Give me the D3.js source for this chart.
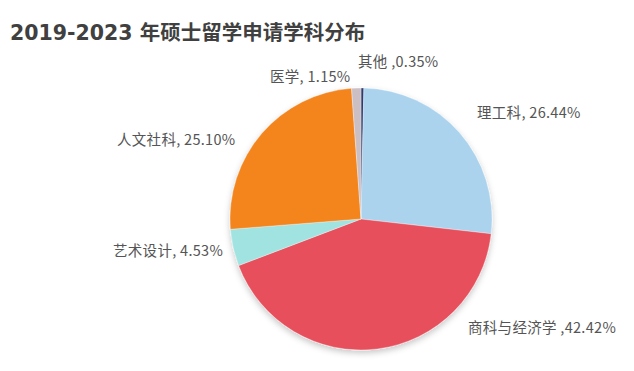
<!DOCTYPE html>
<html>
<head>
<meta charset="utf-8">
<script src="https://cdn.jsdelivr.net/npm/d3@7"></script>
<style>
  html, body { margin: 0; padding: 0; background: #fff; }
  svg { display: block; }
</style>
</head>
<body>
<svg id="chart" width="634" height="371"></svg>
<script>
// ---- data ----
const categories = ["其他", "理工科", "商科与经济学", "艺术设计", "人文社科", "医学"];
const values = [0.35, 26.44, 42.42, 4.53, 25.10, 1.15];
const labelTexts = ["其他 ,0.35%", "理工科, 26.44%", "商科与经济学 ,42.42%", "艺术设计, 4.53%", "人文社科, 25.10%", "医学, 1.15%"];
const titleText = "2019-2023 年硕士留学申请学科分布";

// ---- styling / layout ----
const colors = ["#2d3a70", "#abd3ee", "#e84f5b", "#a0e3e0", "#f3851f", "#cbbfc4"];
const labelPos = [[358, 67], [477, 118], [468, 333], [113, 256], [117, 145], [270, 82]];
const cx = 361, cy = 219, r = 131;

const svg = d3.select("#chart");

const defs = svg.append("defs");
const f = defs.append("filter").attr("id", "shadow")
  .attr("x", "-20%").attr("y", "-20%").attr("width", "140%").attr("height", "140%");
f.append("feDropShadow").attr("dx", 0).attr("dy", 3).attr("stdDeviation", 3)
  .attr("flood-color", "#000").attr("flood-opacity", 0.22);

svg.append("text")
  .attr("x", 10).attr("y", 40)
  .attr("font-family", "'DejaVu Sans', 'Noto Sans CJK SC', sans-serif")
  .attr("font-weight", "bold")
  .attr("font-size", 20.5)
  .attr("fill", "#404040")
  .text(titleText);

const pie = d3.pie().sort(null).value(d => d).startAngle(0).endAngle(2 * Math.PI);
const arc = d3.arc().innerRadius(0).outerRadius(r);
const arcs = pie(values);

const g = svg.append("g").attr("transform", `translate(${cx},${cy})`).attr("filter", "url(#shadow)");
g.selectAll("path").data(arcs).enter().append("path")
  .attr("d", arc)
  .attr("fill", (d, i) => colors[i])
  .attr("stroke", "rgba(255,255,255,0.55)")
  .attr("stroke-width", 0.6);

svg.selectAll("text.lbl").data(labelTexts).enter().append("text")
  .attr("class", "lbl")
  .attr("x", (d, i) => labelPos[i][0])
  .attr("y", (d, i) => labelPos[i][1])
  .attr("font-family", "'Noto Sans CJK SC', sans-serif")
  .attr("font-size", 14.5)
  .attr("letter-spacing", 0.3)
  .attr("fill", "#555")
  .text(d => d);
</script>
</body>
</html>
